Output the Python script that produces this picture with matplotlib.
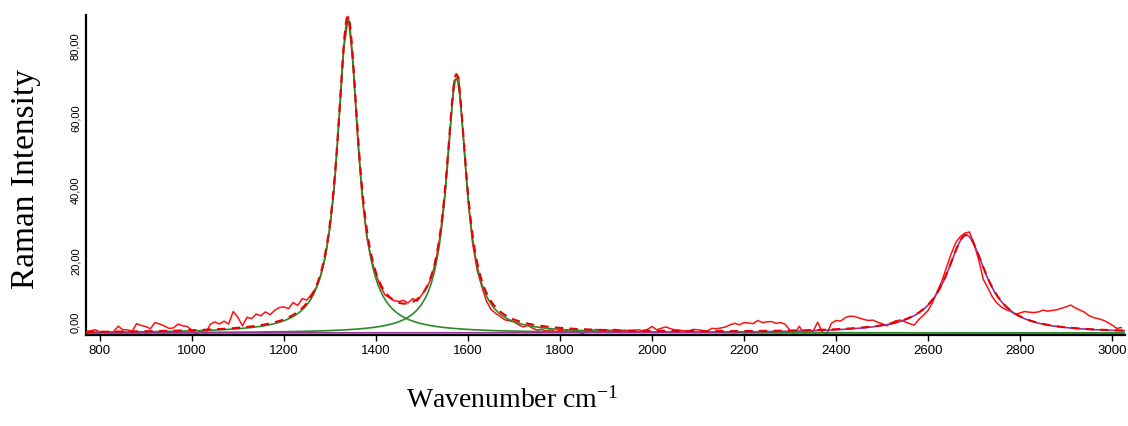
import numpy as np
import matplotlib
matplotlib.use("Agg")
import matplotlib.pyplot as plt

# Measured Raman spectrum (10 cm^-1 steps)
wavenumber = np.arange(770, 3021, 10)
intensity = np.array([
    0.4, 0.6, 0.9, 0.3, 0.2, 0.2, 0.4, 1.9, 0.9, 0.9,          # 770-860
    0.4, 2.6, 2.1, 1.8, 1.2, 2.9, 2.5, 2.0, 1.3, 1.4,          # 870-960
    2.5, 2.0, 1.8, 0.8, -0.2, 0.7, -0.1, 2.4, 3.1, 2.5,        # 970-1060
    3.3, 2.5, 6.0, 4.4, 2.0, 4.4, 4.0, 5.3, 4.8, 5.9,          # 1070-1160
    5.1, 6.3, 7.1, 7.3, 6.8, 8.5, 7.7, 9.6, 9.2, 10.8,         # 1170-1260
    12.6, 15.9, 21.2, 29.3, 41.0, 59.6, 79.2, 88.4, 75.5, 55.0,  # 1270-1360
    38.2, 27.0, 20.6, 16.4, 13.0, 10.6, 9.8, 9.0, 8.8, 9.1,    # 1370-1460
    8.4, 9.6, 8.9, 10.7, 12.5, 15.3, 20.0, 27.5, 38.8, 55.0,   # 1470-1560
    70.5, 71.5, 55.2, 37.5, 25.2, 17.6, 13.0, 9.0, 6.6, 5.5,   # 1570-1660
    4.6, 3.7, 3.4, 3.1, 2.3, 1.7, 2.1, 1.4, 0.8, 1.0,          # 1670-1760
    0.6, 0.9, 0.4, 0.7, 0.5, 0.9, 0.6, 0.2, -0.1, 0.6,         # 1770-1860
    0.7, 1.0, 0.6, 0.9, 0.7, 1.0, 0.6, 0.8, 0.6, 0.7,          # 1870-1960
    0.9, 0.6, 1.0, 1.8, 0.9, 1.3, 1.7, 1.2, 0.9, 0.8,          # 1970-2060
    0.6, 0.6, 1.0, 0.9, 0.7, 0.5, 1.3, 1.2, 1.4, 1.7,          # 2070-2160
    2.3, 2.7, 2.3, 2.9, 2.8, 2.6, 3.5, 2.9, 3.1, 3.2,          # 2170-2260
    2.7, 2.9, 2.4, 0.7, -0.2, 1.9, -0.2, 0.8, 0.4, 3.0,        # 2270-2360
    0.3, -0.2, 2.7, 3.5, 3.3, 4.3, 4.7, 4.6, 4.2, 3.8,         # 2370-2460
    3.5, 3.6, 3.0, 2.6, 2.0, 2.8, 3.4, 3.6, 3.1, 2.6,          # 2470-2560
    2.2, 3.8, 5.0, 6.3, 8.6, 11.6, 14.5, 18.3, 22.0, 25.2,     # 2570-2660
    26.9, 27.9, 28.2, 24.8, 20.5, 15.0, 12.6, 10.0, 8.3, 7.2,  # 2670-2760
    6.5, 6.0, 5.2, 5.6, 6.0, 5.8, 5.7, 5.9, 6.4, 6.1,          # 2770-2860
    6.3, 6.5, 6.9, 7.3, 7.8, 7.0, 6.4, 5.8, 4.8, 4.3,          # 2870-2960
    4.0, 3.6, 3.0, 2.2, 1.3, 1.5,                              # 2970-3020
])

# Fitted Lorentzian bands: D, G and 2D
band_names = ["D", "G", "2D"]
band_centres = [1339, 1575, 2683]
band_heights = [87.5, 71.0, 27.3]
band_fwhm = [56, 54, 105]
band_colors = ["#2a8a2a", "#2a8a2a", "#9a2e9a"]

x_ticks = [800, 1000, 1200, 1400, 1600, 1800, 2000, 2200, 2400, 2600, 2800, 3000]
y_ticks = [0, 20, 40, 60, 80]
y_tick_labels = ["0,00", "20,00", "40,00", "60,00", "80,00"]


def lorentzian(x, centre, height, fwhm):
    return height / (1.0 + ((x - centre) / (fwhm / 2.0)) ** 2)


plt.rcParams["mathtext.fontset"] = "custom"
plt.rcParams["mathtext.rm"] = "Liberation Serif"
plt.rcParams["mathtext.it"] = "Liberation Serif:italic"

fig = plt.figure(figsize=(11.28, 4.26), dpi=100)
ax = fig.add_axes([86 / 1128, 91 / 426, (1125 - 86) / 1128, 320 / 426])

x_fit = np.linspace(770, 3028, 3000)
components = [lorentzian(x_fit, c, h, w)
              for c, h, w in zip(band_centres, band_heights, band_fwhm)]
fit_sum = np.sum(components, axis=0)

# measured spectrum
ax.plot(wavenumber, intensity, color="#ff1010", lw=1.1, zorder=2)

# individual bands
for comp, col in zip(components, band_colors):
    ax.plot(x_fit, comp, color=col, lw=1.2, zorder=3)

# cumulative fit
ax.plot(x_fit, fit_sum, color="#e80000", lw=1.5, ls=(0, (4, 3)), zorder=4)

ax.set_xlim(770, 3028)
ax.set_ylim(-0.56, 88.8)

ax.set_xticks(x_ticks)
ax.set_yticks(y_ticks, labels=y_tick_labels)

for side in ("top", "right"):
    ax.spines[side].set_visible(False)
for side in ("left", "bottom"):
    ax.spines[side].set_linewidth(1.6)
    ax.spines[side].set_color("black")

ax.tick_params(axis="x", direction="out", length=4, width=1, labelsize=9.5,
               pad=3, colors="black")
ax.tick_params(axis="y", length=0, labelsize=8, pad=4)
for lab in ax.get_xticklabels():
    lab.set_family("Liberation Sans")
for i, lab in enumerate(ax.get_yticklabels()):
    lab.set_rotation(90)
    lab.set_family("Liberation Sans")
    # the lowest label sits above the axis line instead of straddling it
    lab.set_va("bottom" if i == 0 else "center")

fig.text(26 / 1128, 1 - 179 / 426, "Raman Intensity", rotation=90,
         ha="center", va="center", family="Liberation Serif", fontsize=24)
fig.text(512 / 1128, 1 - 408 / 426, r"Wavenumber cm$^{\mathrm{-1}}$",
         ha="center", va="baseline", family="Liberation Serif", fontsize=20)

fig.savefig("out.png", dpi=100)
